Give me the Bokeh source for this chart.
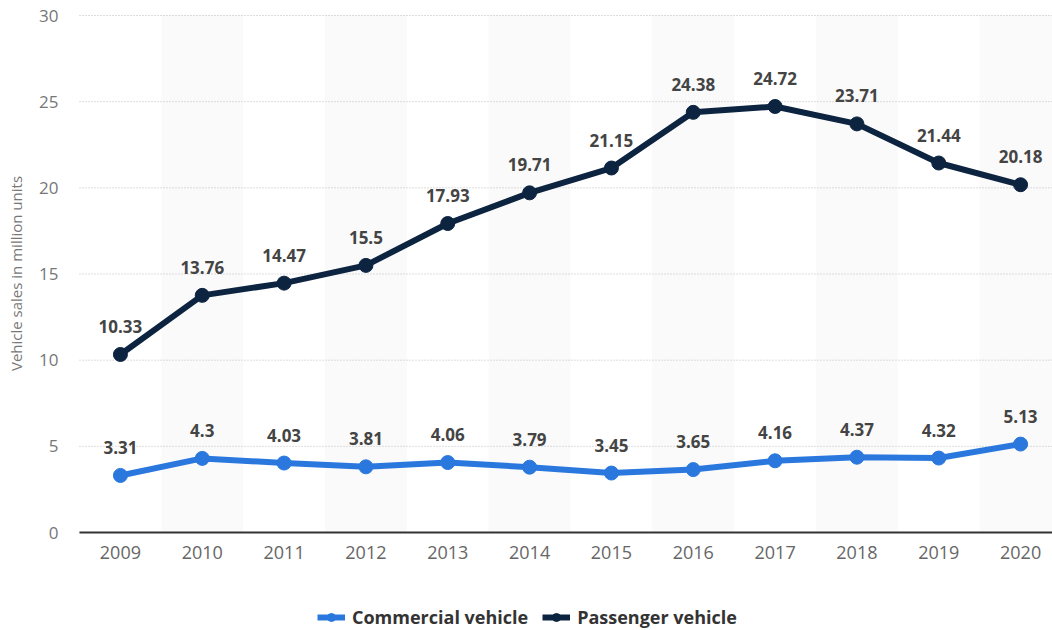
import math
from bokeh.plotting import figure
from bokeh.models import ColumnDataSource, Legend, LegendItem, Range1d, FixedTicker, LabelSet, Label
from bokeh.embed import file_html
from bokeh.resources import INLINE
from bokeh.core.properties import value

years = [2009, 2010, 2011, 2012, 2013, 2014, 2015, 2016, 2017, 2018, 2019, 2020]
commercial = [3.31, 4.3, 4.03, 3.81, 4.06, 3.79, 3.45, 3.65, 4.16, 4.37, 4.32, 5.13]
passenger = [10.33, 13.76, 14.47, 15.5, 17.93, 19.71, 21.15, 24.38, 24.72, 23.71, 21.44, 20.18]
commercial_labels = ["3.31", "4.3", "4.03", "3.81", "4.06", "3.79", "3.45", "3.65", "4.16", "4.37", "4.32", "5.13"]
passenger_labels = ["10.33", "13.76", "14.47", "15.5", "17.93", "19.71", "21.15", "24.38", "24.72", "23.71", "21.44", "20.18"]
y_ticks = [0, 5, 10, 15, 20, 25, 30]

FONT = "Open Sans"
BLUE = "#2a78de"
NAVY = "#0d2441"

X0, X1 = 2008.5, 2020.39          # visible data extent of the plotting area
XSTART = X0 - 79 / 81.83          # frame starts at canvas left edge
PX_PER_UNIT = 517 / 30            # vertical scale (0 at 532px, 30 at 15px)

p = figure(width=1052, height=630, output_backend="svg", toolbar_location=None,
           x_range=Range1d(XSTART, X1),
           y_range=Range1d(-98 / PX_PER_UNIT, 30 + 15 / PX_PER_UNIT),
           min_border_left=0, min_border_right=0, min_border_top=0, min_border_bottom=0)
p.outline_line_color = None
p.background_fill_color = "white"

# alternating bands
band_x = years[1::2]
p.vbar(x=band_x, width=1, top=30, bottom=0, fill_color="#fafafa", line_color=None, level="image")

# dotted horizontal grid lines
p.xgrid.grid_line_color = None
p.ygrid.grid_line_color = None
p.segment(x0=[X0] * len(y_ticks), x1=[X1] * len(y_ticks), y0=y_ticks, y1=y_ticks,
          line_color="#bbbbbb", line_dash="1 2", line_width=1, level="underlay")

src_c = ColumnDataSource(dict(x=years, y=commercial, t=commercial_labels))
src_p = ColumnDataSource(dict(x=years, y=passenger, t=passenger_labels))

lc = p.line("x", "y", source=src_c, line_color=BLUE, line_width=6)
cc = p.scatter("x", "y", source=src_c, size=14, fill_color=BLUE, line_color=BLUE)
lp = p.line("x", "y", source=src_p, line_color=NAVY, line_width=6)
cp = p.scatter("x", "y", source=src_p, size=14, fill_color=NAVY, line_color=NAVY)

for src in (src_c, src_p):
    p.add_layout(LabelSet(x="x", y="y", text="t", source=src, y_offset=28,
                          text_align="center", text_baseline="middle",
                          text_font=value(FONT), text_font_size="17px",
                          text_font_style="bold", text_color="#444444"))

p.xaxis.fixed_location = 0
p.xaxis.bounds = (X0, X1)
p.xaxis.ticker = FixedTicker(ticks=years)
p.xaxis.major_tick_line_color = None
p.xaxis.major_tick_out = 0
p.xaxis.major_tick_in = 0
p.xaxis.minor_tick_line_color = None
p.xaxis.axis_line_color = "#333333"
p.xaxis.axis_line_width = 2
p.xaxis.major_label_text_font = FONT
p.xaxis.major_label_text_font_size = "18px"
p.xaxis.major_label_text_color = "#666666"
p.xaxis.major_label_standoff = 13

p.yaxis.fixed_location = X0
p.yaxis.bounds = (0, 30)
p.yaxis.ticker = FixedTicker(ticks=y_ticks)
p.yaxis.axis_line_color = None
p.yaxis.major_tick_line_color = None
p.yaxis.major_tick_out = 0
p.yaxis.major_tick_in = 0
p.yaxis.minor_tick_line_color = None
p.yaxis.major_label_text_font = FONT
p.yaxis.major_label_text_font_size = "17px"
p.yaxis.major_label_text_color = "#777777"
p.yaxis.major_label_standoff = 21

p.add_layout(Label(x=15, y=630 - 273, x_units="screen", y_units="screen",
                   text="Vehicle sales in million units", angle=math.pi / 2,
                   text_align="center", text_baseline="middle",
                   text_font=FONT, text_font_size="15px", text_color="#777777"))

legend = Legend(items=[LegendItem(label="Commercial vehicle", renderers=[lc, cc]),
                       LegendItem(label="Passenger vehicle", renderers=[lp, cp])],
                orientation="horizontal", location=(317, 1),
                label_text_font=FONT, label_text_font_size="18px",
                label_text_font_style="bold", label_text_color="#333333",
                border_line_color=None, background_fill_alpha=0,
                glyph_width=28, glyph_height=20, spacing=14, padding=0, margin=0,
                label_standoff=7)
p.add_layout(legend)

open("out.html", "w").write(file_html(p, INLINE))
